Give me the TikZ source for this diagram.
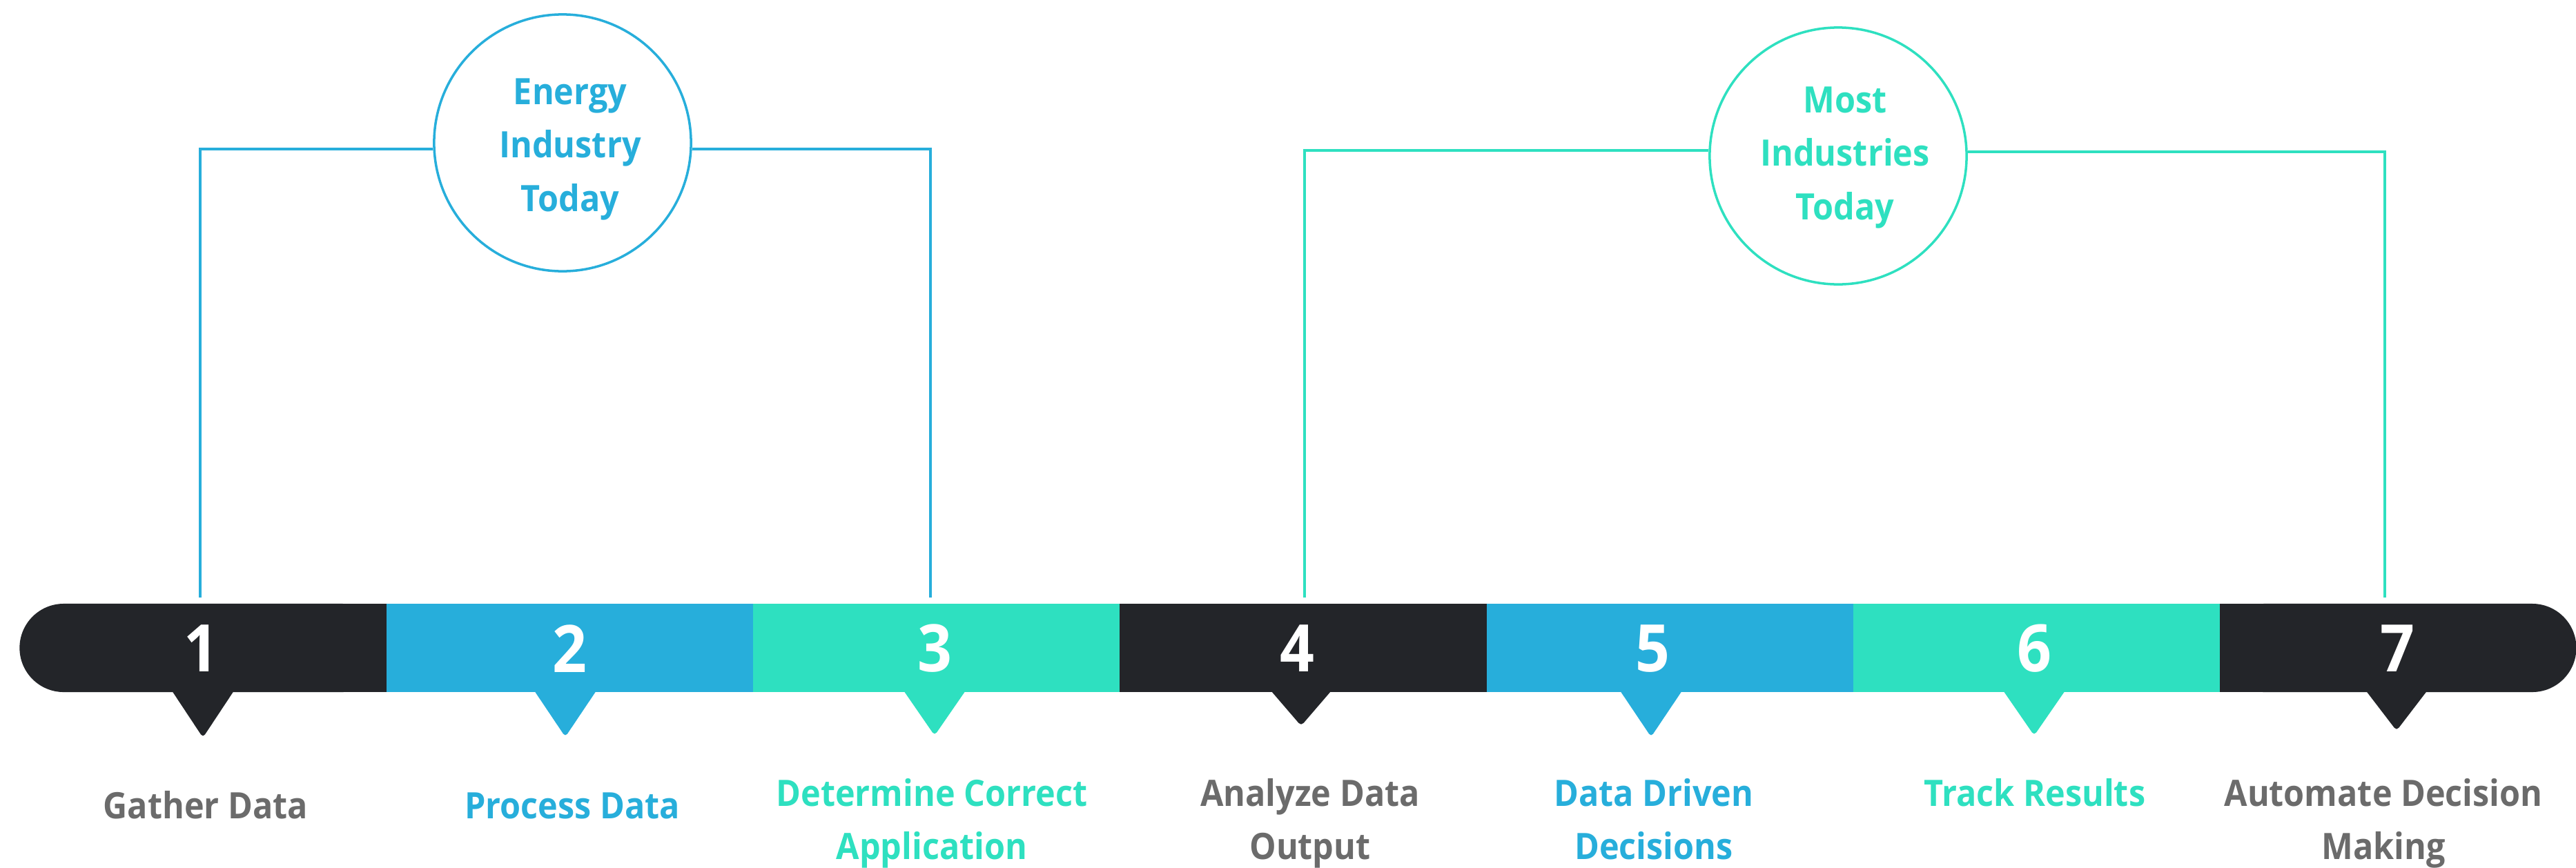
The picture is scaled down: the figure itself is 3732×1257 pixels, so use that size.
\documentclass[tikz,border=0pt]{standalone}
\usepackage{fontspec}
\setmainfont{Open Sans}[FakeStretch=0.92]
\usetikzlibrary{positioning}
\definecolor{darkbar}{HTML}{232529}
\definecolor{bluebar}{HTML}{27AEDB}
\definecolor{tealbar}{HTML}{2EE0C0}
\definecolor{greytext}{HTML}{6B6B6B}
\tikzset{
  seg/.style={rectangle, minimum width=5.31cm, minimum height=1.28cm, inner sep=0pt, outer sep=0pt},
  num/.style={text=white, font=\bfseries\fontsize{27}{30}\selectfont, inner sep=0pt},
  lbl/.style={align=center, inner sep=0pt, anchor=base, font=\bfseries\fontsize{15}{21.9}\selectfont},
  bubble/.style={circle, draw, line width=1pt, minimum size=3.72cm, inner sep=0pt},
  link/.style={line width=0.9pt}
}
\begin{document}
\begin{tikzpicture}[x=0.01cm, y=-0.01cm]
    \useasboundingbox (0,0) rectangle (3732,1257);
    % the bar
    \node[seg, fill=darkbar, rounded corners=0.64cm] (s1) at (294,939) {};
    \node[seg, fill=bluebar, right=0pt of s1] (s2) {};
    \node[seg, fill=tealbar, right=0pt of s2] (s3) {};
    \node[seg, fill=darkbar, right=0pt of s3] (s4) {};
    \node[seg, fill=bluebar, right=0pt of s4] (s5) {};
    \node[seg, fill=tealbar, right=0pt of s5] (s6) {};
    \node[seg, fill=darkbar, minimum width=5.16cm, rounded corners=0.64cm, right=0pt of s6] (s7) {};
    \fill[darkbar] (s1.north) rectangle (s1.south east);
    \fill[darkbar] (s7.north west) rectangle (s7.south);

    % pointers
    \foreach \x/\d/\c in {294/1069/darkbar, 819/1068/bluebar, 1354/1066/tealbar, 1885/1052/darkbar,
        2392/1068/bluebar, 2947/1066/tealbar, 3472/1059/darkbar}
        \fill[\c, rounded corners=1.5pt] (\x-49,995) -- (\x,\d) -- (\x+49,995) -- cycle;

    % numbers
    \foreach \i/\x in {1/291, 2/825, 3/1354, 4/1879, 5/2394, 6/2947, 7/3473}
        \node[num] (n\i) at (\x,940) {\i};

    % bubbles and brackets
    \node[bubble, draw=bluebar] (energy) at (815,207) {};
    \node[lbl, text=bluebar] (energytxt) at (826,306) {Energy\\Industry\\Today};
    \node[bubble, draw=tealbar] (most) at (2663,226) {};
    \node[lbl, text=tealbar] (mosttxt) at (2673,318) {Most\\Industries\\Today};
    \coordinate (e1) at (290,866);
    \coordinate (e2) at (1348,866);
    \coordinate (m1) at (1890,866);
    \coordinate (m2) at (3455,866);
    \draw[link, bluebar] (e1) |- ([yshift=-0.09cm]energy.west);
    \draw[link, bluebar] (e2) |- ([yshift=-0.09cm]energy.east);
    \draw[link, tealbar] (m1) |- ([yshift=0.08cm]most.west);
    \draw[link, tealbar] (m2) |- ([yshift=0.06cm]most.east);

    % labels
    \node[lbl, text=greytext] (l1) at (298,1186) {Gather Data};
    \node[lbl, text=bluebar] (l2) at (829,1186) {Process Data};
    \node[lbl, text=tealbar] (l3) at (1350,1245) {Determine Correct\\Application};
    \node[lbl, text=greytext] (l4) at (1898,1245) {Analyze Data\\Output};
    \node[lbl, text=bluebar] (l5) at (2396,1245) {Data Driven\\Decisions};
    \node[lbl, text=tealbar] (l6) at (2948,1168) {Track Results};
    \node[lbl, text=greytext] (l7) at (3453,1245) {Automate Decision\\Making};
\end{tikzpicture}
\end{document}
